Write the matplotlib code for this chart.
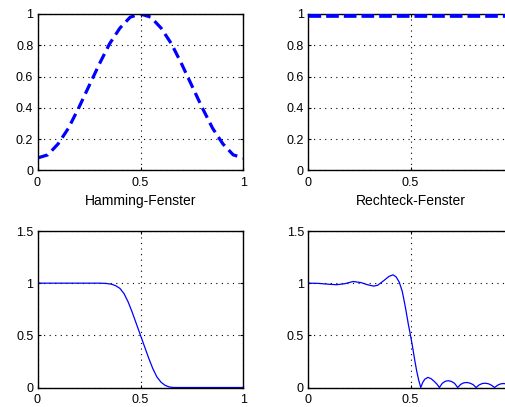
import matplotlib
matplotlib.use("Agg")
import matplotlib.pyplot as plt

plt.rcParams["font.family"] = ["Liberation Sans", "DejaVu Sans"]
plt.rcParams["font.size"] = 9

# ---------------------------
# Data
# ---------------------------
# Hamming window (top left)
ham_x = [0.0, 0.05, 0.1, 0.15, 0.2, 0.25, 0.3, 0.35, 0.4, 0.45, 0.5,
         0.55, 0.6, 0.65, 0.7, 0.75, 0.8, 0.85, 0.9, 0.95, 1.0]
ham_y = [0.08, 0.10, 0.17, 0.27, 0.40, 0.54, 0.68, 0.81, 0.91, 0.98, 1.0,
         0.98, 0.91, 0.81, 0.68, 0.54, 0.40, 0.27, 0.17, 0.10, 0.08]

# Rectangular window (top right)
rect_x = [0.0, 1.0]
rect_y = [1.0, 1.0]

# Filter response with Hamming window (bottom left)
fh_x = [0.0, 0.30, 0.33, 0.36, 0.38, 0.40, 0.42, 0.44, 0.46, 0.48, 0.50,
        0.52, 0.54, 0.56, 0.58, 0.60, 0.62, 0.64, 0.66, 1.0]
fh_y = [1.0, 1.0, 0.998, 0.99, 0.975, 0.95, 0.90, 0.82, 0.72, 0.61, 0.50,
        0.39, 0.28, 0.18, 0.10, 0.05, 0.02, 0.005, 0.0, 0.0]

# Filter response with rectangular window (bottom right)
fr_x = [0.0, 0.05, 0.1, 0.14, 0.18, 0.22, 0.26, 0.29, 0.32, 0.34, 0.37,
        0.395, 0.415, 0.43, 0.445, 0.46, 0.475, 0.49, 0.50, 0.51, 0.52,
        0.53, 0.54, 0.55, 0.56, 0.57, 0.585, 0.60, 0.615, 0.63, 0.641,
        0.655, 0.67, 0.685, 0.70, 0.715, 0.73, 0.745, 0.76, 0.775, 0.79,
        0.805, 0.82, 0.835, 0.85, 0.865, 0.88, 0.895, 0.91, 0.925, 0.94,
        0.955, 0.97, 0.985, 1.0]
fr_y = [1.0, 0.998, 0.99, 0.985, 0.995, 1.016, 1.005, 0.985, 0.972, 0.98, 1.025,
        1.065, 1.08, 1.06, 1.01, 0.92, 0.77, 0.60, 0.50, 0.39, 0.27,
        0.16, 0.07, 0.0, 0.05, 0.08, 0.097, 0.085, 0.06, 0.03, 0.0,
        0.04, 0.06, 0.065, 0.058, 0.04, 0.0, 0.03, 0.045, 0.048, 0.042,
        0.028, 0.0, 0.025, 0.038, 0.041, 0.036, 0.022, 0.0, 0.022, 0.035,
        0.038, 0.033, 0.02, 0.0]

xticks = [0, 0.5, 1]
xticklabels = ["0", "0.5", "1"]
win_yticks = [0, 0.2, 0.4, 0.6, 0.8, 1]
win_yticklabels = ["0", "0.2", "0.4", "0.6", "0.8", "1"]
resp_yticks = [0, 0.5, 1, 1.5]
resp_yticklabels = ["0", "0.5", "1", "1.5"]

W, H = 506, 407
fig = plt.figure(figsize=(W / 100, H / 100), dpi=100)


def make_axes(left_px, top_px, width_px, height_px):
    return fig.add_axes([left_px / W, 1 - (top_px + height_px) / H,
                         width_px / W, height_px / H])


def style(ax, yticks, yticklabels, ylim, cut_right=False):
    ax.set_xlim(0, 1)
    ax.set_ylim(*ylim)
    ax.set_xticks(xticks)
    # the right-hand axes run past the picture edge, so their last label is not seen
    ax.set_xticklabels(xticklabels[:-1] + [""] if cut_right else xticklabels)
    ax.set_yticks(yticks)
    ax.set_yticklabels(yticklabels)
    ax.grid(True, color="black", linestyle=(0, (1, 4)), linewidth=0.8)
    ax.tick_params(direction="in", length=2, width=0.8, pad=5,
                   top=True, right=True)
    ax.tick_params(axis="y", pad=3)
    for s in ax.spines.values():
        s.set_linewidth(1.0)


ax1 = make_axes(37.5, 14, 206, 156.5)
ax2 = make_axes(308, 14, 205, 156.5)
ax3 = make_axes(37.5, 231, 206, 156.5)
ax4 = make_axes(308, 231, 205, 156.5)

dash = (0, (3.4, 1.8))
ax1.plot(ham_x, ham_y, color="#0000ff", linewidth=2.3, linestyle=dash,
         dash_capstyle="butt")
# the window sits on the top edge, so only its lower half is drawn
ax2.plot(rect_x, rect_y, color="#0000ff", linewidth=4.8, linestyle=(0, (1.9, 0.75)),
         dash_capstyle="butt", zorder=3)
ax3.plot(fh_x, fh_y, color="#0000ff", linewidth=0.9)
ax4.plot(fr_x, fr_y, color="#0000ff", linewidth=0.9)

style(ax1, win_yticks, win_yticklabels, (0, 1))
style(ax2, win_yticks, win_yticklabels, (0, 1), cut_right=True)
style(ax3, resp_yticks, resp_yticklabels, (0, 1.5))
style(ax4, resp_yticks, resp_yticklabels, (0, 1.5), cut_right=True)

ax1.set_xlabel("Hamming-Fenster", labelpad=3, fontsize=10)
ax2.set_xlabel("Rechteck-Fenster", labelpad=3, fontsize=10)

fig.savefig("out.png", dpi=100)
